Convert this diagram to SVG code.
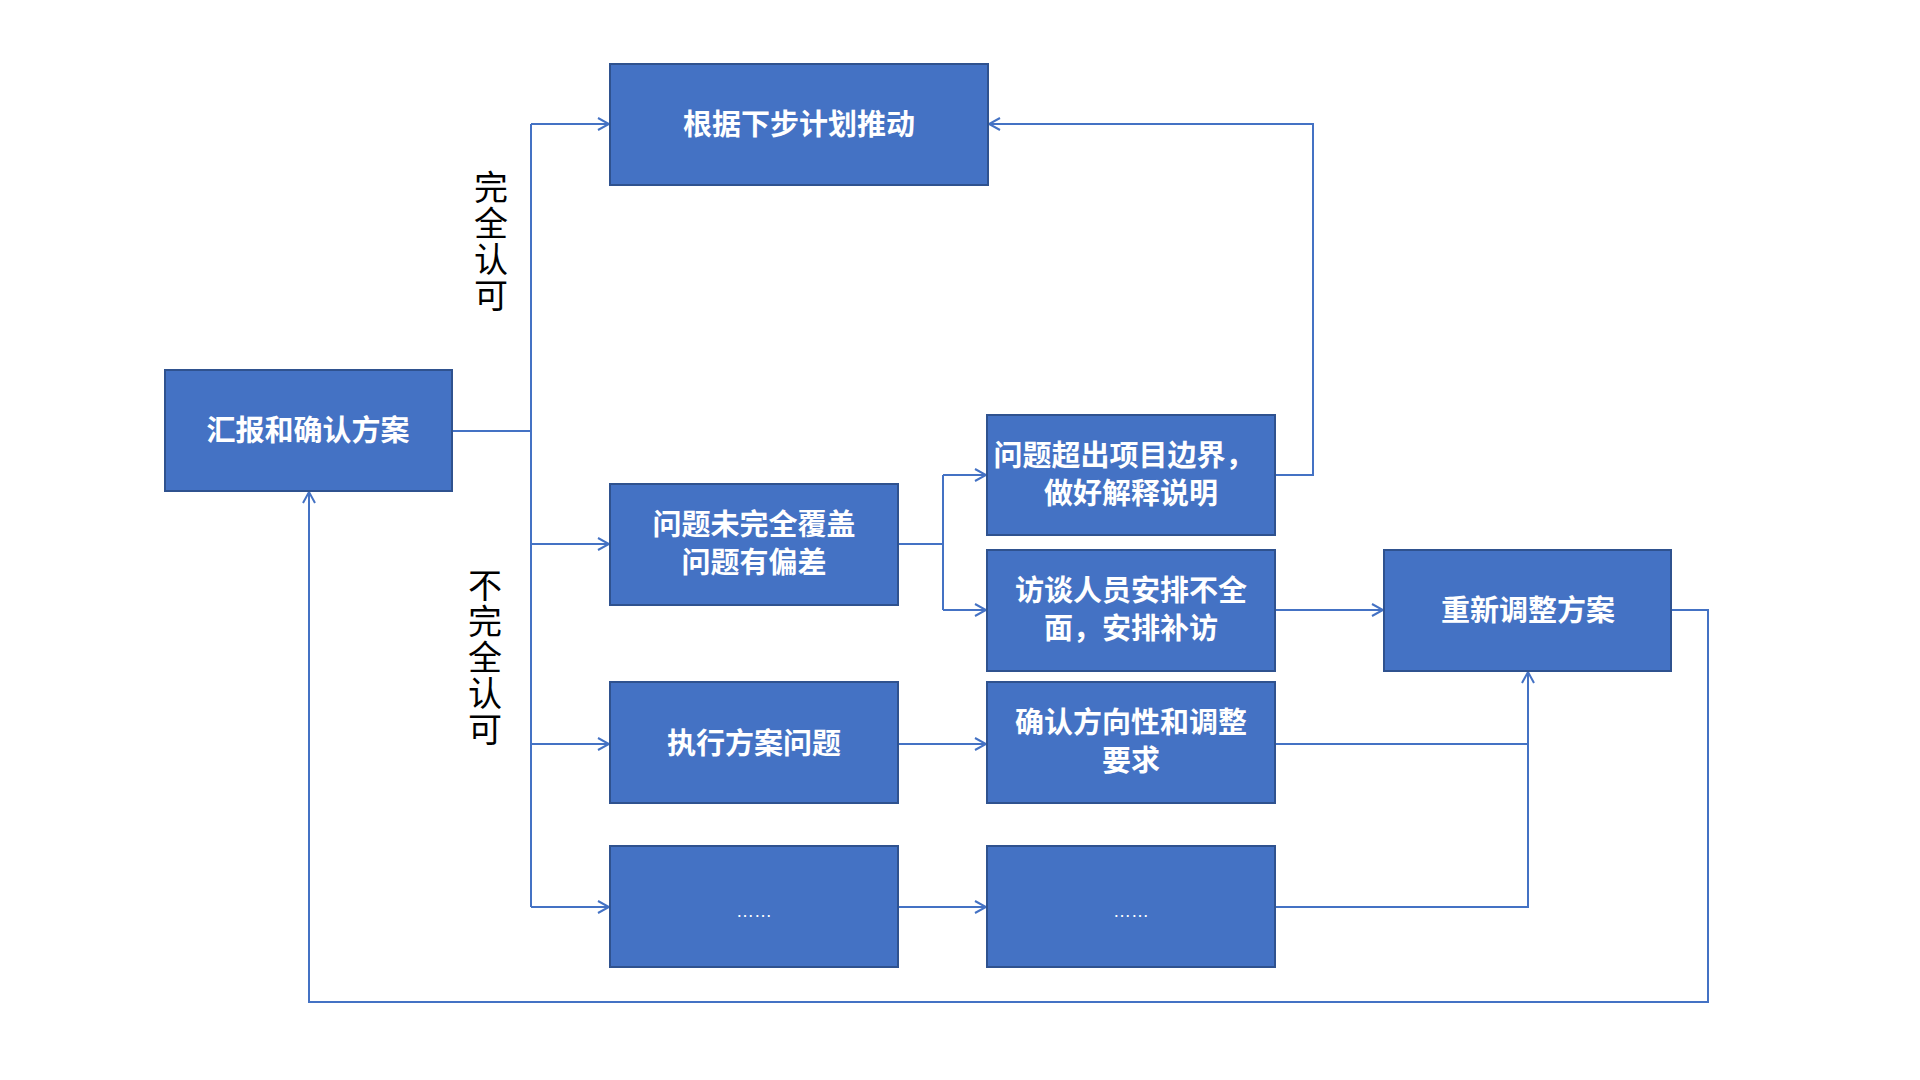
<svg xmlns="http://www.w3.org/2000/svg" width="1920" height="1080" viewBox="0 0 1920 1080">
<style>
.b{fill:#4472C4;stroke:#2F528F;stroke-width:2}
.t{font-family:"Liberation Sans","Noto Sans CJK SC",sans-serif;font-weight:bold;font-size:29px;fill:#fff;text-anchor:middle}
.v{font-family:"Liberation Sans","Noto Sans CJK SC",sans-serif;font-size:34px;fill:#000;text-anchor:middle}
.c{fill:none;stroke:#4472C4;stroke-width:2}
</style>
<defs><marker id="a" markerWidth="14" markerHeight="14" refX="12" refY="7" orient="auto" markerUnits="userSpaceOnUse"><path d="M1,1 L12,7 L1,13" fill="none" stroke="#4472C4" stroke-width="2"/></marker></defs>
<rect width="1920" height="1080" fill="#fff"/>
<g id="connectors" class="c">
<path d="M452,431 H531"/>
<path d="M531,124 V907"/>
<path d="M531,124 H609" marker-end="url(#a)"/>
<path d="M531,544 H609" marker-end="url(#a)"/>
<path d="M531,744 H609" marker-end="url(#a)"/>
<path d="M531,907 H609" marker-end="url(#a)"/>
<path d="M898,544 H943"/>
<path d="M943,475 V610"/>
<path d="M943,475 H986" marker-end="url(#a)"/>
<path d="M943,610 H986" marker-end="url(#a)"/>
<path d="M1275,475 H1313 V124 H989" marker-end="url(#a)"/>
<path d="M1275,610 H1383" marker-end="url(#a)"/>
<path d="M898,744 H986" marker-end="url(#a)"/>
<path d="M898,907 H986" marker-end="url(#a)"/>
<path d="M1275,744 H1528"/>
<path d="M1275,907 H1528 V672" marker-end="url(#a)"/>
<path d="M1671,610 H1708 V1002 H309 V492" marker-end="url(#a)"/>
</g>
<g id="lbl1"><text class="v" x="491" y="200">完</text><text class="v" x="491" y="236">全</text><text class="v" x="491" y="272">认</text><text class="v" x="491" y="308">可</text></g>
<g id="lbl2"><text class="v" x="485" y="598">不</text><text class="v" x="485" y="634">完</text><text class="v" x="485" y="670">全</text><text class="v" x="485" y="706">认</text><text class="v" x="485" y="742">可</text></g>
<g id="n1"><rect class="b" x="165" y="370" width="287" height="121"/><text class="t" x="308" y="441">汇报和确认方案</text></g>
<g id="n2"><rect class="b" x="610" y="64" width="378" height="121"/><text class="t" x="799" y="135">根据下步计划推动</text></g>
<g id="n3"><rect class="b" x="610" y="484" width="288" height="121"/><text class="t" x="754" y="535">问题未完全覆盖</text><text class="t" x="754" y="573">问题有偏差</text></g>
<g id="n4"><rect class="b" x="610" y="682" width="288" height="121"/><text class="t" x="754" y="754">执行方案问题</text></g>
<g id="n5"><rect class="b" x="610" y="846" width="288" height="121"/><text class="t" x="754" y="917" style="font-weight:normal;font-size:18px">……</text></g>
<g id="n6"><rect class="b" x="987" y="415" width="288" height="120"/><text class="t" x="1124" y="466">问题超出项目边界，</text><text class="t" x="1131" y="504">做好解释说明</text></g>
<g id="n7"><rect class="b" x="987" y="550" width="288" height="121"/><text class="t" x="1131" y="601">访谈人员安排不全</text><text class="t" x="1131" y="639">面，安排补访</text></g>
<g id="n8"><rect class="b" x="987" y="682" width="288" height="121"/><text class="t" x="1131" y="733">确认方向性和调整</text><text class="t" x="1131" y="771">要求</text></g>
<g id="n9"><rect class="b" x="987" y="846" width="288" height="121"/><text class="t" x="1131" y="917" style="font-weight:normal;font-size:18px">……</text></g>
<g id="n10"><rect class="b" x="1384" y="550" width="287" height="121"/><text class="t" x="1528" y="621">重新调整方案</text></g>
</svg>
